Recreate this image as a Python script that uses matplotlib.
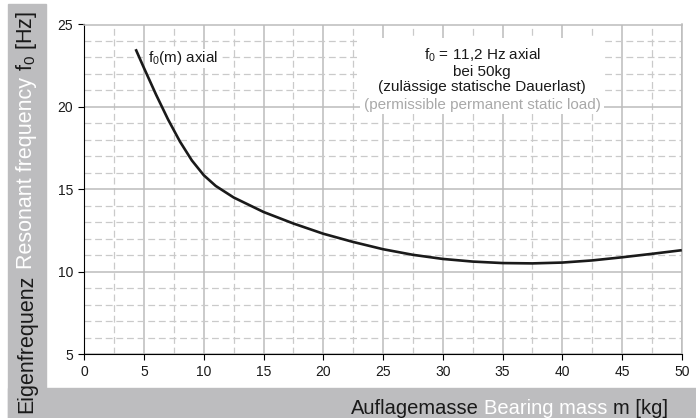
import matplotlib
matplotlib.use("Agg")
import matplotlib.pyplot as plt
from matplotlib.ticker import MultipleLocator
from matplotlib.patches import Rectangle

plt.rcParams['font.family'] = ['Liberation Sans', 'DejaVu Sans']

# Curve
mass_kg = [4.3, 5, 6, 7, 8, 9, 10, 11, 12.5, 15, 17.5, 20, 22.5, 25,
           27.5, 30, 32.5, 35, 37.5, 40, 42.5, 45, 47.5, 50]
freq_hz = [23.5, 22.35, 20.75, 19.25, 17.9, 16.75, 15.85, 15.2, 14.5, 13.62,
           12.92, 12.3, 11.8, 11.36, 11.02, 10.77, 10.61, 10.52, 10.5, 10.55,
           10.68, 10.87, 11.08, 11.3]

x_ticks = list(range(0, 51, 5))
y_ticks = list(range(5, 26, 5))

note_lines = ["$\\mathregular{f_0}$ = 11,2 Hz axial", "bei 50kg",
              "(zulässige statische Dauerlast)"]
note_grey = "(permissible permanent static load)"
curve_label = "$\\mathregular{f_0}$(m) axial"

y_label_parts = [("Eigenfrequenz", "#1a1a1a"), ("Resonant frequency", "white"),
                 ("$\\mathregular{f_0}$ [Hz]", "#1a1a1a")]
x_label_parts = [("Auflagemasse", "#1a1a1a"), ("Bearing mass", "white"),
                 ("m [kg]", "#1a1a1a")]

W, H = 696, 418
BAND = "#bdbdbf"
GRID = "#bcbcbc"
MINOR = "#cacaca"
INK = "#1a1a1a"

fig = plt.figure(figsize=(W / 100, H / 100), dpi=100)
fig.patch.set_facecolor("white")

# grey label bands
fig.patches.append(Rectangle((8 / W, 0), 38 / W, 414 / H, transform=fig.transFigure,
                             color=BAND, zorder=0))
fig.patches.append(Rectangle((8 / W, 0), 688 / W, 30 / H, transform=fig.transFigure,
                             color=BAND, zorder=0))

ax = fig.add_axes([84.3 / W, 64 / H, 597.5 / W, 329.5 / H])
ax.set_xlim(0, 50)
ax.set_ylim(5, 25)
ax.set_xticks(x_ticks)
ax.set_yticks(y_ticks)
ax.xaxis.set_minor_locator(MultipleLocator(2.5))
ax.yaxis.set_minor_locator(MultipleLocator(1))
ax.set_axisbelow(True)
ax.grid(which="major", color=GRID, lw=1.1)
ax.grid(which="minor", color=MINOR, lw=0.9, linestyle=(0, (5.5, 3)))
ax.tick_params(which="major", direction="out", length=4, width=0.8,
               color="black", labelsize=10, pad=4, labelcolor=INK)
ax.tick_params(which="minor", length=0)
for side in ("left", "bottom"):
    ax.spines[side].set_color("black")
    ax.spines[side].set_linewidth(0.8)
for side in ("top", "right"):
    ax.spines[side].set_color(GRID)
    ax.spines[side].set_linewidth(1.1)

# white panel behind the note
ax.add_patch(Rectangle((23.07, 19.6), 43.49 - 23.07, 24.2 - 19.6,
                       facecolor="white", edgecolor="none", zorder=1))

ax.plot(mass_kg, freq_hz, color=INK, lw=1.9, zorder=3, solid_capstyle="butt",
        solid_joinstyle="round")

ax.text(5.35, 22.94, curve_label, fontsize=11, color=INK, ha="left", va="center",
        zorder=4, bbox=dict(facecolor="white", edgecolor="none", pad=0.5))
ax.text(33.3, 22.21, "\n".join(note_lines), fontsize=11, color=INK, ha="center",
        va="center", linespacing=1.1, multialignment="center", zorder=4)
ax.text(33.3, 20.1, note_grey, fontsize=11, color="#a9a9a9", ha="center",
        va="center", zorder=4,
        bbox=dict(facecolor="white", edgecolor="none", pad=1))

renderer = fig.canvas.get_renderer()


def band_text(parts, size, x_px, y_px, vertical):
    gap = size * 0.278 * fig.dpi / 72
    if vertical:
        pos = y_px
        for text, colour in parts:
            t = fig.text(x_px / W, pos / H, text, fontsize=size, color=colour,
                         rotation=90, rotation_mode="anchor", ha="left",
                         va="baseline")
            pos += t.get_window_extent(renderer).height + gap
    else:
        pos = x_px
        for text, colour in reversed(parts):
            t = fig.text(pos / W, y_px / H, text, fontsize=size, color=colour,
                         ha="right", va="baseline")
            pos -= t.get_window_extent(renderer).width + gap


band_text(y_label_parts, 15.5, 32, 5, vertical=True)
band_text(x_label_parts, 14.5, 668, 4, vertical=False)

fig.savefig("out.png", dpi=100)
